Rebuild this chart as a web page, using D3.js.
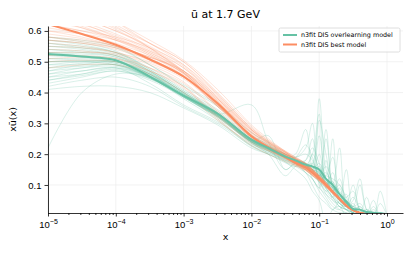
<!DOCTYPE html>
<html>
<head>
<meta charset="utf-8">
<script src="https://cdn.jsdelivr.net/npm/d3@7"></script>
<style>
  body { margin: 0; background: #fff; }
  svg { font-family: "DejaVu Sans", sans-serif; }
  .axis path, .axis line { stroke: #000; stroke-width: 0.8; }
  .axis text { font-size: 9.5px; fill: #000; }
  .grid line { stroke: #ececec; stroke-width: 0.7; }
</style>
</head>
<body>
<svg id="chart"></svg>
<script>
// log10(x) sampling points shared by every curve
const logX = [-5, -4.5, -4, -3.5, -3, -2.5, -2, -1.75, -1.5, -1.35, -1.2, -1.1, -1, -0.9, -0.8, -0.7, -0.6, -0.5, -0.4, -0.3, -0.2, -0.1, 0];

const yTicks = [0.1, 0.2, 0.3, 0.4, 0.5, 0.6];
const xTickExps = [-5, -4, -3, -2, -1, 0];

const seriesNames = ["n3fit DIS overlearning model", "n3fit DIS best model"];

// central values
const overCentral = [0.525, 0.517, 0.505, 0.452, 0.39, 0.332, 0.247, 0.22, 0.192, 0.18, 0.166, 0.16, 0.15, 0.12, 0.1, 0.07, 0.045, 0.022, 0.02, 0.012, 0.01, 0.008, 0.005];
const bestCentral = [0.622, 0.59, 0.555, 0.508, 0.452, 0.365, 0.258, 0.222, 0.19, 0.172, 0.156, 0.14, 0.122, 0.1, 0.077, 0.055, 0.033, 0.018, 0.01, 0.006, 0.003, 0.001, 0];

// replicas, overlearning model
const overReplicas = [
  [0.56, 0.55, 0.53, 0.47, 0.40, 0.335, 0.25, 0.222, 0.195, 0.18, 0.16, 0.17, 0.38, 0.15, 0.1, 0.06, 0.05, 0.02, 0.03, 0.01, 0.01, 0.005, 0],
  [0.45, 0.47, 0.48, 0.43, 0.36, 0.305, 0.232, 0.21, 0.185, 0.17, 0.15, 0.13, 0.12, 0.25, 0.09, 0.05, 0.04, 0.01, 0.0, 0.02, 0.0, 0.01, 0],
  [0.50, 0.505, 0.50, 0.455, 0.395, 0.33, 0.245, 0.22, 0.19, 0.2, 0.28, 0.15, 0.11, 0.08, 0.06, 0.09, 0.03, 0.02, 0.01, 0.0, 0.02, 0.0, 0],
  [0.58, 0.57, 0.55, 0.49, 0.425, 0.36, 0.27, 0.238, 0.2, 0.185, 0.17, 0.14, 0.16, 0.1, 0.14, 0.05, 0.02, 0.04, 0.0, 0.01, 0.0, 0.0, 0],
  [0.41, 0.42, 0.42, 0.4, 0.35, 0.295, 0.22, 0.2, 0.178, 0.165, 0.15, 0.14, 0.13, 0.11, 0.08, 0.06, 0.15, 0.02, 0.01, 0.0, 0.0, 0.0, 0],
  [0.22, 0.40, 0.46, 0.45, 0.39, 0.325, 0.24, 0.212, 0.185, 0.17, 0.16, 0.15, 0.135, 0.11, 0.09, 0.06, 0.04, 0.03, 0.01, 0.02, 0.01, 0.0, 0],
  [0.53, 0.525, 0.515, 0.465, 0.395, 0.328, 0.24, 0.21, 0.175, 0.15, 0.12, 0.08, 0.05, -0.02, 0.02, 0.03, 0.0, 0.01, 0.0, 0.0, 0.0, 0.0, 0],
  [0.47, 0.49, 0.5, 0.46, 0.39, 0.33, 0.25, 0.225, 0.2, 0.19, 0.22, 0.3, 0.14, 0.12, 0.1, 0.04, 0.03, 0.06, 0.02, 0.0, 0.0, 0.01, 0],
  [0.55, 0.54, 0.52, 0.465, 0.4, 0.33, 0.245, 0.26, 0.15, 0.17, 0.16, 0.14, 0.12, 0.09, 0.25, 0.05, 0.03, 0.02, 0.01, 0.01, 0.0, 0.0, 0],
  [0.43, 0.45, 0.47, 0.44, 0.385, 0.32, 0.235, 0.205, 0.18, 0.17, 0.16, 0.16, 0.14, 0.12, 0.09, 0.07, 0.04, 0.03, 0.1, 0.02, 0.01, 0.0, 0],
  [0.51, 0.51, 0.505, 0.46, 0.39, 0.33, 0.36, 0.24, 0.15, 0.17, 0.15, 0.13, 0.11, 0.09, 0.06, 0.04, 0.02, 0.01, 0.01, 0.0, 0.0, 0.0, 0],
  [0.57, 0.56, 0.535, 0.475, 0.405, 0.335, 0.245, 0.215, 0.19, 0.175, 0.165, 0.15, 0.13, 0.12, 0.07, 0.05, 0.03, 0.02, 0.01, 0.06, 0.0, 0.0, 0],
  [0.49, 0.5, 0.5, 0.455, 0.385, 0.32, 0.24, 0.215, 0.19, 0.175, 0.165, 0.2, 0.33, 0.1, 0.08, 0.06, 0.04, 0.02, 0.01, 0.0, 0.01, 0.0, 0],
  [0.44, 0.46, 0.48, 0.45, 0.39, 0.33, 0.25, 0.225, 0.195, 0.18, 0.17, 0.15, 0.13, 0.16, 0.11, 0.08, 0.05, 0.03, 0.02, 0.01, 0.0, 0.08, 0],
  [0.52, 0.515, 0.505, 0.458, 0.392, 0.326, 0.238, 0.2, 0.13, 0.16, 0.17, 0.12, 0.09, 0.07, 0.05, 0.03, 0.02, 0.0, 0.0, 0.0, 0.0, 0.0, 0],
  [0.54, 0.535, 0.52, 0.468, 0.398, 0.33, 0.248, 0.222, 0.195, 0.18, 0.17, 0.16, 0.15, 0.13, 0.12, 0.1, 0.06, 0.02, 0.03, 0.0, 0.0, 0.0, 0],
  [0.46, 0.48, 0.49, 0.45, 0.385, 0.322, 0.238, 0.21, 0.18, 0.165, 0.14, 0.1, 0.06, 0.04, 0.02, 0.05, 0.07, 0.0, 0.01, 0.0, 0.0, 0.0, 0],
  [0.5, 0.5, 0.5, 0.46, 0.395, 0.33, 0.245, 0.22, 0.19, 0.178, 0.18, 0.22, 0.17, 0.11, 0.09, 0.07, 0.05, 0.03, 0.04, 0.01, 0.0, 0.0, 0],
  [0.48, 0.495, 0.495, 0.452, 0.388, 0.325, 0.243, 0.218, 0.19, 0.172, 0.16, 0.14, 0.12, 0.13, 0.19, 0.07, 0.04, 0.02, 0.01, 0.01, 0.05, 0.0, 0],
  [0.56, 0.545, 0.525, 0.47, 0.4, 0.332, 0.246, 0.22, 0.19, 0.175, 0.158, 0.15, 0.14, 0.1, 0.08, 0.05, 0.03, 0.01, 0.0, 0.0, 0.0, 0.0, 0],
  [0.42, 0.44, 0.45, 0.42, 0.355, 0.3, 0.228, 0.205, 0.182, 0.17, 0.155, 0.145, 0.135, 0.11, 0.08, 0.12, 0.05, 0.03, 0.02, 0.01, 0.0, 0.0, 0],
  [0.53, 0.52, 0.51, 0.46, 0.39, 0.33, 0.242, 0.218, 0.19, 0.175, 0.16, 0.15, 0.26, 0.12, 0.09, 0.06, 0.04, 0.1, 0.02, 0.0, 0.0, 0.0, 0],
  [0.55, 0.545, 0.53, 0.48, 0.41, 0.345, 0.26, 0.232, 0.2, 0.185, 0.17, 0.14, 0.2, 0.09, 0.06, 0.03, 0.02, 0.01, 0.0, 0.0, 0.0, 0.0, 0],
  [0.44, 0.455, 0.47, 0.445, 0.385, 0.315, 0.228, 0.2, 0.172, 0.16, 0.18, 0.25, 0.1, 0.06, 0.03, 0.02, 0.05, 0.01, 0.0, 0.0, 0.0, 0.0, 0],
  [0.51, 0.505, 0.495, 0.45, 0.38, 0.31, 0.225, 0.2, 0.175, 0.16, 0.14, 0.12, 0.09, 0.18, 0.05, 0.04, 0.02, 0.0, 0.0, 0.0, 0.0, 0.0, 0],
  [0.57, 0.555, 0.53, 0.475, 0.405, 0.34, 0.255, 0.228, 0.2, 0.19, 0.2, 0.18, 0.12, 0.08, 0.1, 0.22, 0.03, 0.01, 0.0, 0.0, 0.0, 0.0, 0],
  [0.47, 0.48, 0.485, 0.45, 0.39, 0.326, 0.24, 0.214, 0.188, 0.175, 0.16, 0.15, 0.17, 0.12, 0.07, 0.04, 0.03, 0.05, 0.12, 0.02, 0.0, 0.0, 0],
  [0.5, 0.5, 0.49, 0.448, 0.386, 0.322, 0.236, 0.21, 0.185, 0.19, 0.23, 0.19, 0.13, 0.14, 0.1, 0.06, 0.04, 0.02, 0.01, 0.0, 0.03, 0.0, 0],
  [0.53, 0.53, 0.52, 0.47, 0.4, 0.334, 0.25, 0.224, 0.195, 0.178, 0.16, 0.145, 0.11, 0.07, 0.04, 0.02, 0.01, 0.0, 0.0, 0.0, 0.0, 0.0, 0],
  [0.45, 0.46, 0.475, 0.445, 0.388, 0.324, 0.24, 0.215, 0.19, 0.18, 0.17, 0.165, 0.31, 0.2, 0.1, 0.06, 0.03, 0.02, 0.01, 0.0, 0.0, 0.0, 0],
  [0.58, 0.565, 0.545, 0.49, 0.42, 0.355, 0.262, 0.23, 0.196, 0.18, 0.165, 0.15, 0.14, 0.1, 0.08, 0.1, 0.04, 0.02, 0.01, 0.0, 0.0, 0.04, 0],
  [0.49, 0.49, 0.49, 0.452, 0.39, 0.328, 0.244, 0.218, 0.19, 0.176, 0.16, 0.145, 0.12, 0.1, 0.11, 0.07, 0.06, 0.08, 0.02, 0.01, 0.0, 0.0, 0],
  [0.52, 0.515, 0.5, 0.455, 0.39, 0.326, 0.242, 0.215, 0.188, 0.172, 0.15, 0.2, 0.15, 0.09, 0.06, 0.03, 0.02, 0.01, 0.0, 0.0, 0.0, 0.0, 0],
  [0.46, 0.47, 0.48, 0.447, 0.387, 0.323, 0.24, 0.215, 0.19, 0.178, 0.165, 0.155, 0.145, 0.12, 0.08, 0.05, 0.03, 0.02, 0.01, 0.0, 0.0, 0.0, 0],
  [0.54, 0.53, 0.515, 0.462, 0.395, 0.33, 0.246, 0.22, 0.19, 0.17, 0.14, 0.12, 0.08, 0.05, 0.02, 0.01, 0.01, 0.0, 0.0, 0.0, 0.0, 0.0, 0],
  [0.48, 0.485, 0.49, 0.45, 0.39, 0.325, 0.242, 0.218, 0.192, 0.178, 0.165, 0.17, 0.13, 0.28, 0.09, 0.05, 0.03, 0.02, 0.01, 0.0, 0.0, 0.0, 0]
];

// replicas, best model
const bestReplicas = [
  [0.70, 0.66, 0.61, 0.56, 0.50, 0.40, 0.29, 0.245, 0.205, 0.182, 0.162, 0.14, 0.12, 0.10, 0.078, 0.055, 0.034, 0.018, 0.01, 0.005, 0.003, 0.001, 0],
  [0.56, 0.55, 0.53, 0.50, 0.45, 0.36, 0.26, 0.225, 0.195, 0.177, 0.16, 0.143, 0.125, 0.104, 0.08, 0.057, 0.035, 0.02, 0.011, 0.006, 0.003, 0.001, 0],
  [0.66, 0.63, 0.59, 0.54, 0.47, 0.375, 0.265, 0.228, 0.197, 0.176, 0.157, 0.138, 0.118, 0.096, 0.073, 0.05, 0.03, 0.016, 0.009, 0.005, 0.002, 0.001, 0],
  [0.60, 0.58, 0.55, 0.51, 0.455, 0.365, 0.26, 0.222, 0.19, 0.17, 0.152, 0.135, 0.118, 0.098, 0.076, 0.054, 0.033, 0.018, 0.01, 0.006, 0.003, 0.001, 0],
  [0.74, 0.69, 0.63, 0.57, 0.505, 0.41, 0.295, 0.25, 0.208, 0.182, 0.16, 0.138, 0.118, 0.097, 0.075, 0.053, 0.032, 0.017, 0.009, 0.005, 0.002, 0.001, 0],
  [0.52, 0.52, 0.51, 0.47, 0.415, 0.32, 0.24, 0.212, 0.19, 0.176, 0.163, 0.148, 0.13, 0.108, 0.083, 0.058, 0.036, 0.02, 0.011, 0.006, 0.003, 0.001, 0],
  [0.63, 0.61, 0.575, 0.53, 0.47, 0.37, 0.268, 0.23, 0.2, 0.18, 0.16, 0.142, 0.122, 0.1, 0.076, 0.053, 0.032, 0.017, 0.009, 0.005, 0.002, 0.001, 0],
  [0.58, 0.565, 0.545, 0.505, 0.45, 0.355, 0.255, 0.218, 0.188, 0.168, 0.15, 0.133, 0.116, 0.096, 0.074, 0.052, 0.031, 0.017, 0.009, 0.005, 0.002, 0.001, 0],
  [0.68, 0.64, 0.6, 0.545, 0.48, 0.38, 0.272, 0.234, 0.202, 0.183, 0.165, 0.146, 0.126, 0.103, 0.079, 0.055, 0.033, 0.018, 0.01, 0.005, 0.003, 0.001, 0],
  [0.48, 0.49, 0.49, 0.46, 0.40, 0.31, 0.235, 0.21, 0.19, 0.176, 0.162, 0.146, 0.128, 0.106, 0.082, 0.058, 0.036, 0.02, 0.011, 0.006, 0.003, 0.001, 0],
  [0.64, 0.62, 0.585, 0.535, 0.465, 0.36, 0.262, 0.225, 0.194, 0.174, 0.156, 0.139, 0.121, 0.1, 0.077, 0.054, 0.033, 0.018, 0.01, 0.005, 0.003, 0.001, 0],
  [0.55, 0.545, 0.53, 0.495, 0.445, 0.355, 0.262, 0.228, 0.2, 0.181, 0.163, 0.145, 0.125, 0.102, 0.078, 0.054, 0.032, 0.017, 0.009, 0.005, 0.002, 0.001, 0],
  [0.72, 0.68, 0.62, 0.56, 0.49, 0.39, 0.285, 0.24, 0.2, 0.176, 0.155, 0.136, 0.117, 0.095, 0.073, 0.051, 0.031, 0.016, 0.009, 0.005, 0.002, 0.001, 0],
  [0.61, 0.59, 0.56, 0.52, 0.462, 0.37, 0.27, 0.234, 0.204, 0.185, 0.167, 0.148, 0.128, 0.105, 0.08, 0.056, 0.034, 0.019, 0.01, 0.006, 0.003, 0.001, 0],
  [0.57, 0.56, 0.54, 0.505, 0.45, 0.356, 0.258, 0.222, 0.193, 0.172, 0.154, 0.136, 0.118, 0.097, 0.075, 0.053, 0.032, 0.017, 0.009, 0.005, 0.002, 0.001, 0],
  [0.65, 0.615, 0.575, 0.525, 0.46, 0.36, 0.258, 0.22, 0.192, 0.174, 0.158, 0.141, 0.123, 0.101, 0.078, 0.055, 0.034, 0.019, 0.01, 0.006, 0.003, 0.001, 0],
  [0.5, 0.505, 0.5, 0.47, 0.42, 0.325, 0.245, 0.22, 0.198, 0.182, 0.166, 0.147, 0.127, 0.104, 0.08, 0.056, 0.034, 0.018, 0.01, 0.005, 0.003, 0.001, 0],
  [0.69, 0.655, 0.605, 0.545, 0.47, 0.37, 0.262, 0.223, 0.19, 0.169, 0.15, 0.132, 0.114, 0.093, 0.071, 0.05, 0.03, 0.016, 0.008, 0.004, 0.002, 0.001, 0],
  [0.59, 0.575, 0.55, 0.515, 0.465, 0.375, 0.272, 0.236, 0.206, 0.186, 0.167, 0.147, 0.126, 0.102, 0.078, 0.054, 0.032, 0.017, 0.009, 0.005, 0.002, 0.001, 0],
  [0.62, 0.6, 0.57, 0.525, 0.462, 0.36, 0.259, 0.22, 0.188, 0.167, 0.149, 0.132, 0.115, 0.095, 0.074, 0.053, 0.033, 0.018, 0.01, 0.006, 0.003, 0.001, 0],
  [0.62, 0.6, 0.58, 0.545, 0.49, 0.395, 0.285, 0.245, 0.21, 0.19, 0.17, 0.15, 0.128, 0.104, 0.079, 0.055, 0.033, 0.018, 0.01, 0.005, 0.003, 0.001, 0],
  [0.54, 0.535, 0.52, 0.48, 0.42, 0.315, 0.228, 0.2, 0.176, 0.162, 0.148, 0.133, 0.117, 0.097, 0.075, 0.053, 0.032, 0.017, 0.009, 0.005, 0.002, 0.001, 0],
  [0.67, 0.64, 0.6, 0.55, 0.485, 0.385, 0.28, 0.24, 0.206, 0.185, 0.165, 0.145, 0.124, 0.1, 0.076, 0.053, 0.032, 0.017, 0.009, 0.005, 0.002, 0.001, 0],
  [0.58, 0.57, 0.55, 0.515, 0.47, 0.38, 0.278, 0.24, 0.208, 0.188, 0.17, 0.151, 0.131, 0.108, 0.083, 0.058, 0.035, 0.019, 0.01, 0.006, 0.003, 0.001, 0],
  [0.71, 0.67, 0.615, 0.545, 0.465, 0.36, 0.255, 0.214, 0.182, 0.163, 0.146, 0.13, 0.113, 0.093, 0.072, 0.051, 0.031, 0.016, 0.008, 0.004, 0.002, 0.001, 0],
  [0.53, 0.53, 0.525, 0.49, 0.435, 0.34, 0.255, 0.225, 0.2, 0.183, 0.165, 0.146, 0.126, 0.103, 0.079, 0.055, 0.033, 0.018, 0.01, 0.005, 0.003, 0.001, 0],
  [0.64, 0.61, 0.57, 0.52, 0.455, 0.355, 0.252, 0.216, 0.186, 0.168, 0.152, 0.136, 0.119, 0.099, 0.077, 0.055, 0.034, 0.019, 0.01, 0.006, 0.003, 0.001, 0],
  [0.6, 0.59, 0.57, 0.535, 0.48, 0.385, 0.28, 0.242, 0.21, 0.19, 0.171, 0.151, 0.13, 0.106, 0.081, 0.056, 0.034, 0.018, 0.01, 0.005, 0.003, 0.001, 0],
  [0.76, 0.7, 0.63, 0.56, 0.5, 0.395, 0.28, 0.235, 0.198, 0.175, 0.155, 0.137, 0.119, 0.098, 0.076, 0.054, 0.033, 0.018, 0.01, 0.006, 0.003, 0.001, 0],
  [0.51, 0.515, 0.51, 0.48, 0.43, 0.335, 0.25, 0.222, 0.2, 0.184, 0.169, 0.15, 0.13, 0.107, 0.082, 0.057, 0.035, 0.019, 0.01, 0.006, 0.003, 0.001, 0],
  [0.66, 0.625, 0.58, 0.53, 0.465, 0.365, 0.258, 0.219, 0.187, 0.166, 0.148, 0.131, 0.114, 0.094, 0.073, 0.052, 0.032, 0.017, 0.009, 0.005, 0.002, 0.001, 0],
  [0.57, 0.56, 0.545, 0.515, 0.47, 0.38, 0.276, 0.238, 0.206, 0.186, 0.168, 0.149, 0.129, 0.106, 0.081, 0.057, 0.035, 0.019, 0.01, 0.006, 0.003, 0.001, 0]
];

const colors = ["#66c2a5", "#fc8d62"];

class ReplicaPlot {
  constructor(_config) {
    this.config = {
      parentElement: _config.parentElement,
      containerWidth: _config.containerWidth || 415,
      containerHeight: _config.containerHeight || 255,
      margin: { top: 26, bottom: 42, right: 12, left: 48 }
    };
    this.initVis();
  }

  initVis() {
    let vis = this;

    vis.width = vis.config.containerWidth - vis.config.margin.left - vis.config.margin.right;
    vis.height = vis.config.containerHeight - vis.config.margin.top - vis.config.margin.bottom;

    vis.svg = d3.select(vis.config.parentElement)
      .attr('width', vis.config.containerWidth)
      .attr('height', vis.config.containerHeight);

    vis.chart = vis.svg.append('g')
      .attr('transform', `translate(${vis.config.margin.left},${vis.config.margin.top})`);

    // log x axis, right edge a bit past 1
    vis.xScale = d3.scaleLog()
      .domain([1e-5, Math.pow(10, 0.236)])
      .range([0, vis.width]);

    vis.yScale = d3.scaleLinear()
      .domain([0.009, 0.616])
      .range([vis.height, 0]);

    vis.svg.append('clipPath').attr('id', 'plot-clip')
      .append('rect').attr('width', vis.width).attr('height', vis.height);

    // smooth curve through the sampled points
    vis.line = d3.line()
      .x((d, i) => vis.xScale(Math.pow(10, logX[i])))
      .y(d => vis.yScale(d))
      .curve(d3.curveCatmullRom.alpha(0.5));
  }

  renderVis() {
    let vis = this;

    // grid
    const grid = vis.chart.append('g').attr('class', 'grid');
    grid.selectAll('.gx').data(xTickExps).join('line')
      .attr('x1', d => vis.xScale(Math.pow(10, d))).attr('x2', d => vis.xScale(Math.pow(10, d)))
      .attr('y1', 0).attr('y2', vis.height);
    grid.selectAll('.gy').data(yTicks).join('line')
      .attr('y1', d => vis.yScale(d)).attr('y2', d => vis.yScale(d))
      .attr('x1', 0).attr('x2', vis.width);

    const marks = vis.chart.append('g').attr('clip-path', 'url(#plot-clip)');

    marks.selectAll('.rep-over').data(overReplicas).join('path')
      .attr('fill', 'none').attr('stroke', colors[0])
      .attr('stroke-width', 0.7).attr('stroke-opacity', 0.35)
      .attr('d', vis.line);

    marks.selectAll('.rep-best').data(bestReplicas).join('path')
      .attr('fill', 'none').attr('stroke', colors[1])
      .attr('stroke-width', 0.7).attr('stroke-opacity', 0.33)
      .attr('d', vis.line);

    marks.append('path').datum(bestCentral)
      .attr('fill', 'none').attr('stroke', colors[1]).attr('stroke-width', 2)
      .attr('d', vis.line);

    marks.append('path').datum(overCentral)
      .attr('fill', 'none').attr('stroke', colors[0]).attr('stroke-width', 2)
      .attr('d', vis.line);

    // axes
    const minor = [];
    for (let e = -5; e < 1; e++) for (let k = 2; k < 10; k++) {
      const v = k * Math.pow(10, e);
      if (v <= vis.xScale.domain()[1]) minor.push(v);
    }
    const xAxisG = vis.chart.append('g').attr('class', 'axis')
      .attr('transform', `translate(0,${vis.height})`);
    xAxisG.call(d3.axisBottom(vis.xScale).tickValues(minor).tickSize(2).tickFormat(''));
    xAxisG.select('.domain').remove();
    const majorG = vis.chart.append('g').attr('class', 'axis')
      .attr('transform', `translate(0,${vis.height})`);
    majorG.call(d3.axisBottom(vis.xScale)
      .tickValues(xTickExps.map(e => Math.pow(10, e)))
      .tickSize(3.5).tickSizeOuter(0).tickFormat(''));
    majorG.selectAll('.tick').append('text')
      .attr('y', 15).attr('text-anchor', 'middle')
      .each(function(d) {
        const t = d3.select(this);
        const e = Math.round(Math.log10(d));
        t.append('tspan').text('10');
        t.append('tspan').attr('dy', -4).attr('font-size', '7px')
          .text(e < 0 ? '\u2212' + (-e) : e);
      });

    const yAxisG = vis.chart.append('g').attr('class', 'axis');
    yAxisG.call(d3.axisLeft(vis.yScale).tickValues(yTicks).tickSize(3.5).tickSizeOuter(0).tickFormat(d3.format('.1f')));

    // labels
    vis.svg.append('text')
      .attr('x', vis.config.margin.left + vis.width / 2).attr('y', 18)
      .attr('text-anchor', 'middle').attr('font-size', '11px')
      .text('\u016B at 1.7 GeV');
    vis.svg.append('text')
      .attr('x', vis.config.margin.left + vis.width / 2).attr('y', 240)
      .attr('text-anchor', 'middle').attr('font-size', '9.5px')
      .text('x');
    vis.svg.append('text')
      .attr('transform', `translate(16,${vis.config.margin.top + vis.height / 2}) rotate(-90)`)
      .attr('text-anchor', 'middle').attr('font-size', '9.5px')
      .text('x\u016B(x)');

    // legend
    const lg = vis.svg.append('g').attr('transform', 'translate(279,28)');
    lg.append('rect').attr('width', 121).attr('height', 24).attr('rx', 1.5)
      .attr('fill', '#fff').attr('fill-opacity', 0.8)
      .attr('stroke', '#d6d6d6').attr('stroke-width', 0.8);
    seriesNames.forEach((name, i) => {
      const y = 7 + i * 9.5;
      lg.append('line').attr('x1', 4).attr('x2', 18).attr('y1', y).attr('y2', y)
        .attr('stroke', colors[i]).attr('stroke-width', 2);
      lg.append('text').attr('x', 22).attr('y', y + 2.3)
        .attr('font-size', '6.4px').text(name);
    });
  }
}

const plot = new ReplicaPlot({ parentElement: '#chart' });
plot.renderVis();
</script>
</body>
</html>
